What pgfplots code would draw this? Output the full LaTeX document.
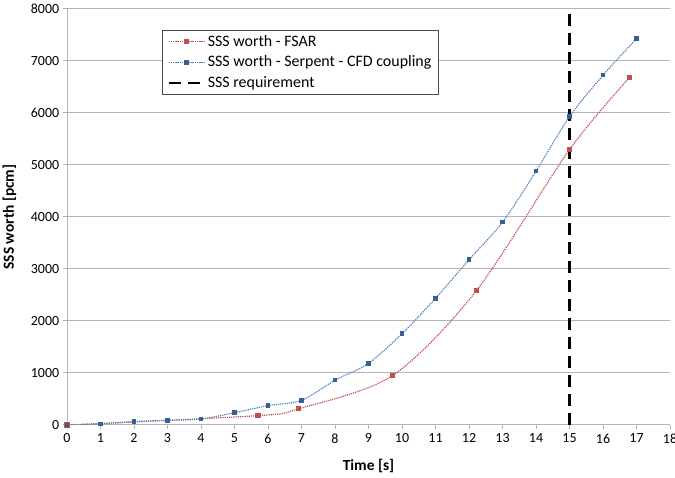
\documentclass[border=0pt]{standalone}
\usepackage{pgfplots}
\pgfplotsset{compat=1.18}
\usepackage{fontspec}
\setmainfont{Carlito}
\definecolor{exred}{RGB}{192,80,77}
\definecolor{exblue}{RGB}{79,129,189}
\definecolor{exbluem}{RGB}{55,96,146}
\definecolor{gridgray}{RGB}{180,180,180}
\begin{document}
\fontsize{14}{17}\selectfont
\begin{tikzpicture}
\begin{axis}[
  scale only axis,
  width=603bp, height=416bp,
  xmin=0, xmax=18, ymin=0, ymax=8000,
  xtick={0,1,...,18}, ytick={0,1000,...,8000},
  /pgf/number format/assume math mode=true,
  /pgf/number format/1000 sep={},
  tick label style={font=\fontsize{14}{17}\selectfont},
  yticklabel style={xshift=1bp},
  ymajorgrids, grid style={gridgray, line width=1pt},
  axis line style={gridgray, line width=1pt},
  tick style={gridgray, line width=1pt},
  tick align=outside, major tick length=4bp,
  xtick pos=bottom, ytick pos=left,
  axis x line*=bottom, axis y line*=left,
  xlabel={\textbf{Time [s]}}, ylabel={\textbf{SSS worth [pcm]}},
  label style={font=\fontsize{15.5}{18}\selectfont},
  xlabel style={yshift=-6bp}, ylabel style={yshift=5bp},
  legend style={at={(axis cs:2.84,7596)}, anchor=north west, draw=black!70, fill=white, font=\fontsize{16}{19}\selectfont, row sep=3.5bp, inner xsep=5bp, inner ysep=3bp},
  legend cell align=left,
  legend image code/.code={\draw[mark repeat=2,mark phase=2,#1] plot coordinates {(0bp,0bp) (18bp,0bp) (36bp,0bp)};},
]
\addplot[exred, densely dotted, line width=1.2pt, smooth, tension=0.5, mark=square*, mark size=2pt, mark options={solid, fill=exred, draw=exred}] coordinates {
(0,0) (5.7,180) (6.92,313) (9.71,948) (12.22,2583) (15,5295) (16.79,6680)
};
\addlegendentry{SSS worth - FSAR}
\addplot[exblue, densely dotted, line width=1.2pt, smooth, tension=0.5, mark=square*, mark size=1.6pt, mark options={solid, fill=exbluem, draw=exbluem}] coordinates {
(0,0) (1,20) (2,65) (3,90) (4,115) (5,237) (6,372) (7,474) (8,860) (9,1186) (10,1756) (11,2436) (12,3179) (13,3900) (14,4880) (15,5930) (16,6725) (17,7430)
};
\addlegendentry{SSS worth - Serpent - CFD coupling}
\addplot[black, line width=2.5pt, dash pattern=on 12bp off 7bp] coordinates {(15,0) (15,8000)};
\addlegendentry{SSS requirement}
\end{axis}
\pgfresetboundingbox
\useasboundingbox ([xshift=-67bp,yshift=-53bp]current axis.south west) rectangle ([xshift=5bp,yshift=9bp]current axis.north east);
\end{tikzpicture}
\end{document}
